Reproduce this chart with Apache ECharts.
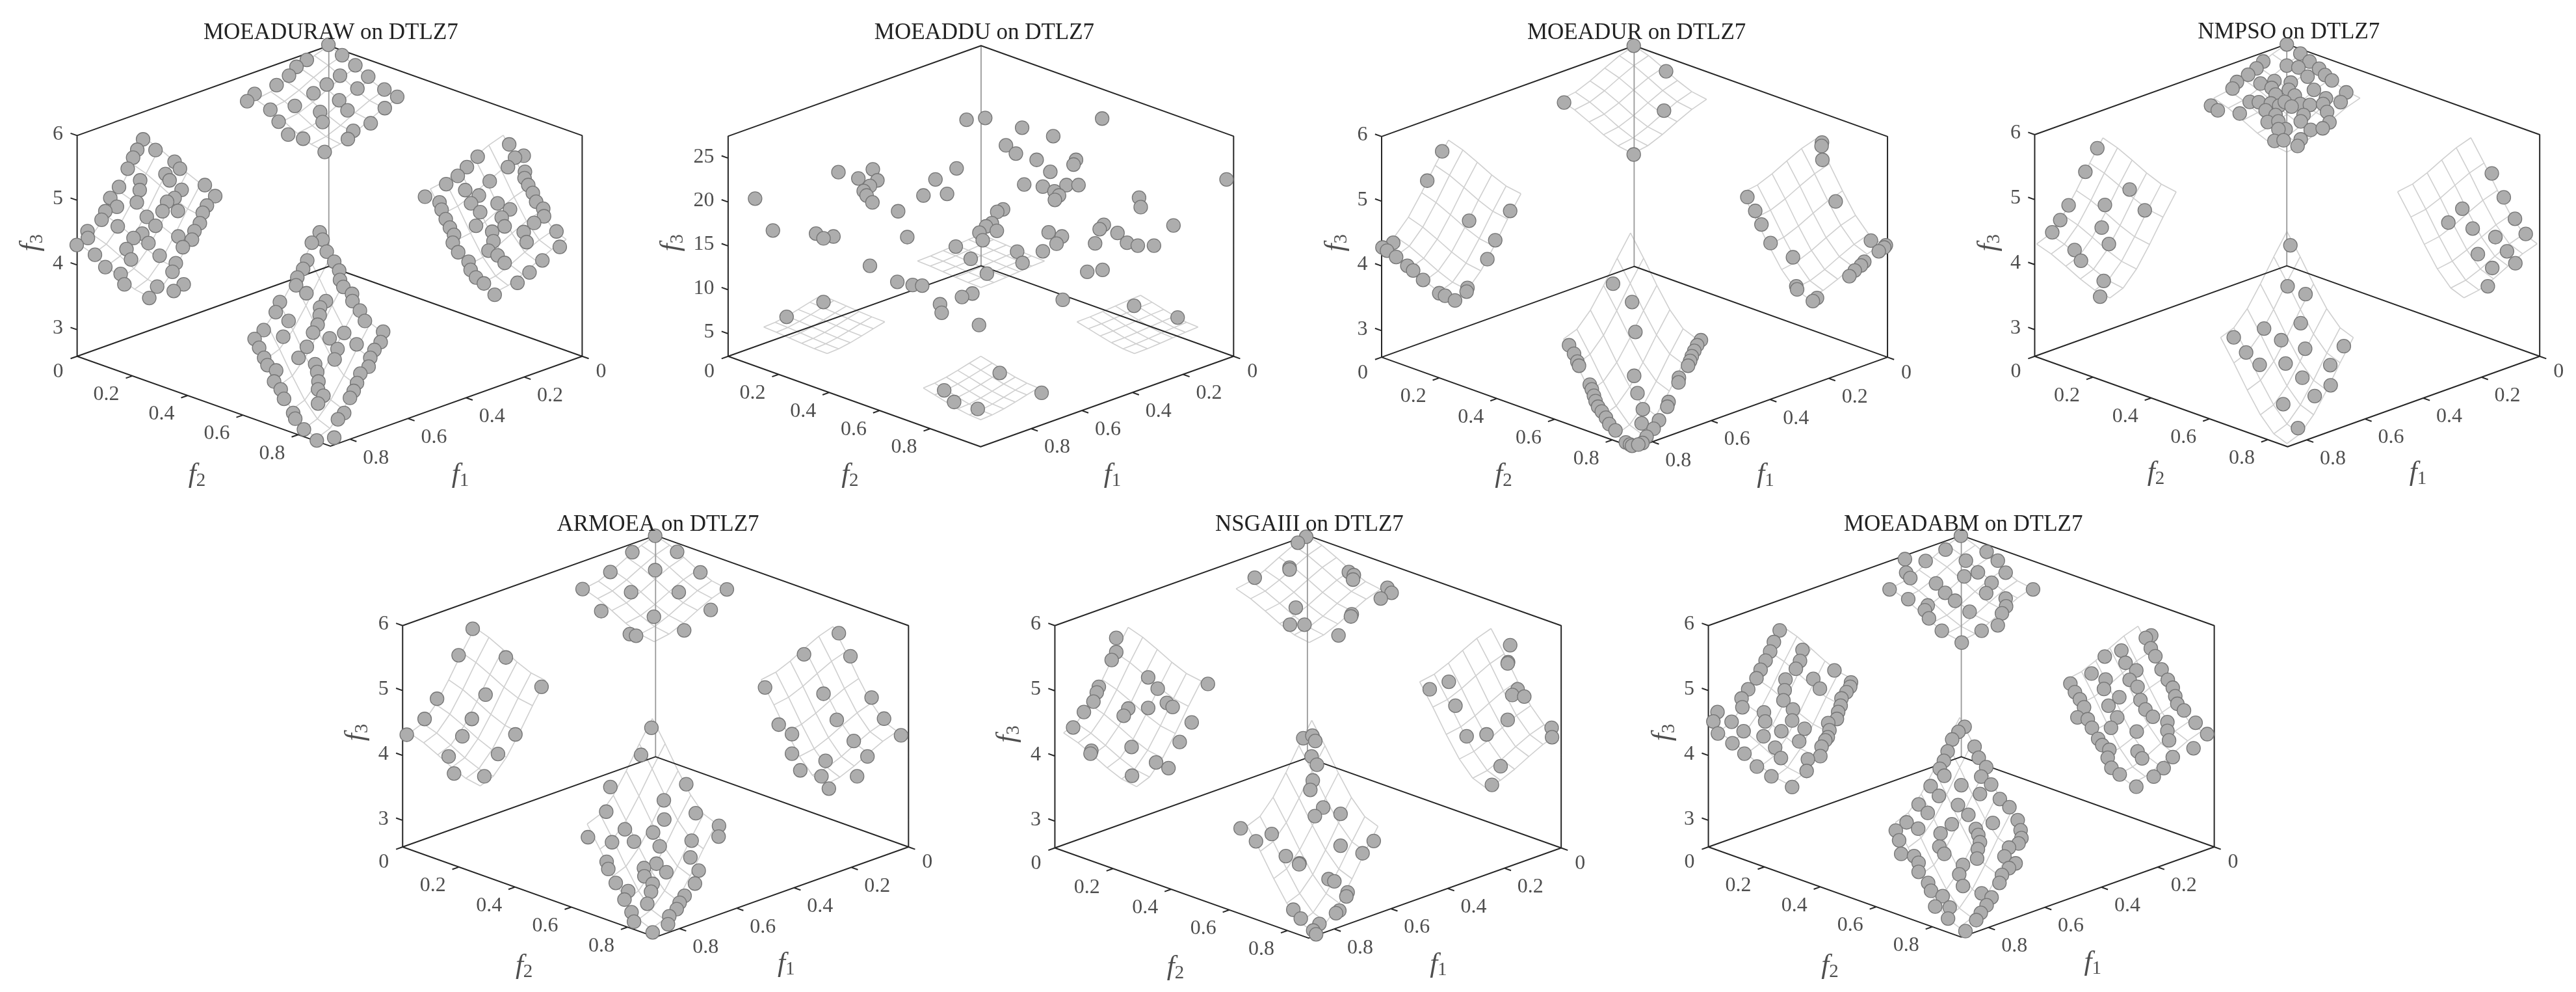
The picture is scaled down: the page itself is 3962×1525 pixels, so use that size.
<!DOCTYPE html>
<html><head><meta charset="utf-8">
<style>html,body{margin:0;padding:0;background:#fff}#c{width:3962px;height:1525px}</style>
<script src="https://cdn.jsdelivr.net/npm/echarts@6/dist/echarts.min.js"></script>
</head><body><div id="c"></div>
<script>
// Points, as [horizontal, vertical] in the projected view plane of each panel (0-1568 on both view axes).
const moeaduraw=[[792,142],[825,175],[740,190],[715,212],[697,240],[857,207],[820,240],[888,243],[667,270],[788,268],[862,281],[927,284],[958,307],[614,298],[596,321],[756,296],[818,318],[711,336],[652,348],[772,355],[838,350],[928,343],[778,387],[672,386],[894,391],[852,415],[839,441],[695,427],[731,440],[783,482],
[345,442],[331,475],[375,476],[321,500],[308,535],[421,513],[434,535],[399,552],[409,572],[338,572],[494,587],[519,622],[287,593],[337,603],[438,602],[421,628],[266,628],[330,642],[403,640],[282,656],[254,670],[499,652],[429,669],[392,670],[489,675],[245,697],[354,688],[482,708],[284,718],[375,716],[469,733],[211,733],[212,755],[343,741],[322,755],[185,777],[430,750],[463,760],[358,771],[441,784],[305,790],[229,808],[385,811],[316,823],[424,835],[254,847],[416,862],[291,869],[300,902],[443,902],[419,923],[379,909],[360,945],
[1228,458],[1152,497],[1263,494],[1242,500],[1225,530],[1126,530],[1266,545],[1104,558],[1265,565],[1181,575],[1076,584],[1274,587],[1122,603],[1285,612],[1025,624],[1155,620],[1060,642],[1293,640],[1136,645],[1200,645],[1065,665],[1310,662],[1158,673],[1230,664],[1075,695],[1312,686],[1210,690],[1288,707],[1085,722],[1148,716],[1217,718],[1263,736],[1095,745],[1342,734],[1187,735],[1092,770],[1190,765],[1270,768],[1350,783],[1105,800],[1178,795],[1200,810],[1130,830],[1217,834],[1308,826],[1135,856],[1277,864],[1148,880],[1167,899],[1248,897],[1193,935],
[771,737],[778,760],[752,770],[788,798],[741,826],[806,830],[731,853],[818,858],[717,880],[820,888],[714,905],[828,910],[849,932],[739,930],[850,955],[786,955],[675,958],[772,975],[868,985],[665,990],[771,1000],[696,1018],[880,1018],[766,1030],[636,1047],[924,1052],[755,1055],[830,1056],[683,1068],[614,1075],[795,1073],[918,1085],[625,1103],[740,1100],[860,1092],[814,1107],[903,1110],[637,1135],[720,1135],[807,1140],[893,1135],[645,1158],[760,1155],[889,1163],[666,1175],[765,1180],[869,1185],[661,1210],[768,1210],[861,1215],[677,1235],[767,1235],[853,1240],[685,1265],[780,1255],[844,1262],[767,1280],[707,1310],[830,1310],[712,1328],[815,1330],[733,1362],[764,1397],[806,1388]];
const moeaddu=[[763,380],[808,374],[1090,376],[897,405],[972,432],[858,461],[882,487],[932,507],[1027,507],[1021,522],[739,534],[537,537],[965,545],[454,546],[502,566],[688,569],[548,572],[530,590],[1390,569],[902,585],[947,592],[1004,587],[1033,587],[515,606],[975,607],[986,620],[659,620],[716,615],[522,620],[976,634],[536,642],[1179,627],[1183,657],[253,630],[851,664],[837,672],[598,670],[824,708],[810,718],[836,732],[1262,715],[296,731],[1094,713],[1084,727],[400,741],[794,738],[442,750],[418,756],[1127,739],[961,737],[993,750],[620,752],[802,762],[1150,770],[1176,779],[1215,779],[1073,772],[980,773],[737,782],[885,798],[947,797],[773,821],[898,834],[530,843],[1054,862],[1091,856],[812,868],[596,894],[633,904],[656,906],[777,931],[752,942],[995,951],[418,958],[699,965],[703,992],[1167,970],[329,1005],[1272,1007],[793,1031],[843,1183],[709,1238],[944,1246],[733,1275],[790,1297]];
const moeadur=[[804,145],[882,226],[636,325],[877,351],[804,490],
[342,480],[306,573],[506,669],[407,700],[470,762],[224,770],[198,785],[209,795],[231,815],[451,822],[258,843],[272,858],[296,888],[403,913],[401,925],[335,930],[349,938],[373,953],
[1258,452],[1257,463],[1259,507],[1078,625],[1291,639],[1097,669],[1112,712],[1376,763],[1412,778],[1408,785],[1395,797],[1134,771],[1360,830],[1352,842],[1188,816],[1337,858],[1324,876],[1196,908],[1198,918],[1246,945],[1236,955],
[754,900],[800,958],[808,1053],[648,1095],[966,1079],[660,1122],[957,1095],[950,1113],[944,1130],[668,1147],[940,1145],[672,1160],[935,1160],[805,1192],[913,1198],[912,1213],[698,1220],[703,1235],[813,1247],[708,1255],[712,1272],[888,1275],[885,1290],[718,1290],[826,1298],[727,1305],[737,1325],[865,1333],[823,1343],[745,1345],[852,1360],[760,1365],[835,1385],[785,1403],[795,1410],[800,1414],[825,1405],[815,1410]];
const nmpso=[[843,141],[877,170],[784,195],[900,195],[767,217],[843,208],[872,214],[924,218],[746,237],[895,243],[939,238],[956,255],[812,257],[777,265],[853,262],[718,260],[707,281],[805,279],[911,285],[848,285],[992,293],[815,300],[863,303],[941,312],[978,324],[653,335],[670,350],[750,323],[773,324],[803,328],[824,335],[838,323],[877,330],[901,333],[934,330],[855,338],[725,360],[790,350],[815,365],[885,365],[944,355],[795,387],[822,385],[878,385],[950,388],[840,410],[822,410],[903,412],[933,407],[812,447],[835,445],[878,442],[870,463],
[368,470],[338,545],[449,601],[296,651],[387,650],[487,667],[275,698],[379,722],[255,737],[397,774],[311,793],[327,827],[384,891],[375,941],
[1357,550],[1387,626],[1283,662],[1415,694],[1248,706],[1309,725],[1442,742],[1366,752],[1395,797],[1322,806],[1416,835],[1358,850],[1347,908],
[852,778],[845,908],[890,933],[878,1025],[786,1042],[710,1070],[829,1079],[889,1106],[986,1098],[741,1118],[775,1157],[840,1153],[952,1158],[882,1198],[953,1222],[913,1256],[834,1282],[871,1358]];
const armoea=[[796,121],[741,173],[849,172],[796,230],[688,236],[905,237],[621,290],[969,291],[738,300],[853,300],[666,360],[930,356],[793,378],[735,433],[750,438],[866,421],
[356,416],[322,500],[436,507],[522,600],[270,638],[387,625],[240,702],[354,702],[197,752],[331,757],[459,751],[298,821],[417,813],[311,875],[384,884],
[1239,430],[1155,497],[1267,503],[1061,602],[1202,622],[1318,634],[1094,720],[1234,705],[1348,701],[1126,750],[1389,754],[1275,772],[1126,812],[1308,821],[1207,835],[1146,865],[1283,884],[1197,884],[1215,923],
[787,730],[762,816],[871,909],[688,918],[817,960],[678,996],[894,1001],[818,1021],[950,1041],[723,1052],[791,1062],[634,1077],[949,1075],[692,1093],[745,1091],[884,1088],[807,1106],[881,1141],[679,1155],[683,1178],[799,1161],[769,1175],[770,1201],[823,1188],[901,1183],[701,1222],[790,1225],[892,1224],[786,1250],[731,1248],[867,1263],[722,1275],[855,1285],[777,1288],[848,1305],[739,1315],[830,1328],[745,1345],[827,1353],[790,1379]];
const nsgaiii=[[798,124],[778,143],[758,222],[758,228],[901,236],[913,246],[911,260],[674,254],[994,286],[1004,302],[978,320],[773,349],[908,370],[906,377],[759,403],[794,403],[876,437],
[340,445],[340,490],[329,515],[298,600],[293,618],[285,647],[417,570],[440,606],[262,680],[462,651],[476,664],[369,669],[358,692],[417,667],[236,729],[561,591],[522,713],[493,775],[280,803],[278,812],[377,791],[436,840],[466,858],[378,882],
[1290,468],[1285,522],[1284,526],[1142,584],[1096,608],[1308,608],[1295,626],[1324,631],[1158,660],[1284,705],[1233,751],[1185,757],[1390,730],[1391,760],[1267,852],[1246,911],
[791,763],[813,755],[820,772],[811,821],[824,847],[814,897],[808,927],[839,983],[819,1010],[881,1003],[640,1049],[715,1067],[677,1090],[961,1089],[881,1104],[934,1128],[749,1137],[782,1160],[781,1163],[852,1210],[866,1217],[898,1252],[895,1265],[767,1307],[878,1310],[870,1318],[785,1335],[830,1352],[815,1373],[822,1385]];
const moeadabm=[[809,121],[772,165],[871,172],[674,195],[724,201],[898,200],[821,200],[677,238],[850,237],[687,255],[917,238],[817,250],[883,270],[749,272],[637,291],[983,291],[771,302],[870,303],[795,327],[682,322],[917,320],[729,342],[722,357],[918,345],[830,362],[908,367],[732,383],[898,405],[763,422],[859,422],[811,460],
[372,421],[358,458],[349,488],[427,483],[338,517],[421,518],[326,546],[411,543],[504,548],[316,573],[386,577],[453,575],[544,586],[542,600],[469,606],[296,608],[384,611],[280,637],[533,617],[521,637],[381,643],[282,665],[519,660],[404,672],[222,680],[334,681],[513,680],[212,710],[337,710],[256,711],[402,707],[510,702],[489,715],[492,738],[285,741],[223,748],[376,741],[432,733],[333,757],[488,760],[258,779],[482,770],[419,773],[361,793],[473,790],[287,812],[375,826],[470,820],[440,830],[317,853],[437,867],[352,884],[402,918],
[1268,437],[1255,445],[1267,478],[1196,485],[1156,504],[1278,503],[1206,524],[1293,545],[1232,548],[1124,558],[1073,590],[1158,577],[1216,578],[1308,578],[1084,617],[1154,607],[1320,603],[1235,600],[1096,640],[1191,633],[1326,630],[1242,642],[1106,665],[1165,660],[1331,654],[1254,672],[1347,675],[1090,697],[1186,697],[1272,695],[1307,712],[1115,703],[1171,730],[1125,730],[1307,740],[1375,714],[1403,750],[1233,742],[1140,765],[1311,770],[1150,785],[1370,795],[1167,800],[1235,805],[1163,825],[1246,827],[1320,823],[1172,857],[1298,858],[1192,878],[1274,885],[1232,917],
[818,727],[803,743],[788,767],[777,805],[842,790],[852,825],[768,835],[758,860],[870,855],[769,882],[858,885],[736,915],[882,910],[810,912],[756,946],[855,940],[903,956],[707,973],[802,975],[926,982],[729,1000],[827,1006],[946,1023],[678,1030],[886,1032],[787,1036],[706,1050],[652,1056],[845,1051],[953,1055],[760,1065],[851,1070],[660,1087],[955,1080],[855,1093],[757,1107],[948,1097],[925,1110],[665,1130],[850,1115],[769,1130],[848,1145],[696,1137],[914,1138],[707,1158],[941,1160],[925,1175],[707,1187],[814,1165],[805,1195],[908,1197],[814,1232],[730,1222],[902,1222],[737,1247],[859,1255],[883,1268],[765,1264],[871,1293],[747,1297],[782,1300],[857,1317],[778,1335],[846,1340],[820,1375]];

const fTicks=[0,0.2,0.4,0.6,0.8];
const zTicks=[3,4,5,6];
const zTicksDDU=[5,10,15,20,25];
// Reference surface grid: grid values and how far f3 falls below 6 at each.
const meshLow=[0,0.05,0.1,0.15,0.2,0.2514];
const meshLowDrop=[0,0.073,0.181,0.298,0.39,0.427];
const meshHigh=[0.6316,0.677,0.723,0.768,0.814,0.8594];
const meshHighDrop=[0.427,0.743,1.089,1.395,1.615,1.693];

const VIEW=1568;
const panels=[
 {name:'MOEADURAW on DTLZ7',pts:moeaduraw,ox:0,oy:0,w:1000,xL:182,xR:1400,xC:793,yT:145,yB:845,yM:1130,yU:425,yF:1412,f1:0.867,f2:0.917,z0:2.59,z1:6,zt:zTicks,zl:[75,770],l2:[475,1505],l1:[1110,1505],tt:[790,95]},
 {name:'MOEADDU on DTLZ7',pts:moeaddu,ox:1000,oy:0,w:1000,xL:189,xR:1408,xC:798,yT:145,yB:843,yM:1130,yU:427,yF:1413,f1:1.0,f2:1.0,z0:2.43,z1:27.5,zt:zTicksDDU,zl:[52,770],l2:[482,1505],l1:[1115,1505],tt:[798,95]},
 {name:'MOEADUR on DTLZ7',pts:moeadur,ox:2000,oy:0,w:1000,xL:194,xR:1414,xC:805,yT:145,yB:845,yM:1133,yU:428,yF:1413,f1:0.859,f2:0.879,z0:2.59,z1:6,zt:zTicks,zl:[85,770],l2:[490,1505],l1:[1122,1505],tt:[803,95]},
 {name:'NMPSO on DTLZ7',pts:nmpso,ox:3000,oy:0,w:962,xL:209,xR:1475,xC:843,yT:140,yB:843,yM:1130,yU:425,yF:1412,f1:0.866,f2:0.868,z0:2.59,z1:6,zt:zTicks,zl:[95,770],l2:[515,1500],l1:[1172,1500],tt:[840,92]},
 {name:'ARMOEA on DTLZ7',pts:armoea,ox:500,oy:765,w:1000,xL:187,xR:1407,xC:797,yT:120,yB:822,yM:1108,yU:405,yF:1390,f1:0.884,f2:0.9,z0:2.59,z1:6,zt:zTicks,zl:[75,745],l2:[480,1485],l1:[1112,1478],tt:[795,75]},
 {name:'NSGAIII on DTLZ7',pts:nsgaiii,ox:1500,oy:765,w:1000,xL:189,xR:1410,xC:801,yT:120,yB:825,yM:1111,yU:408,yF:1395,f1:0.89,f2:0.873,z0:2.59,z1:6,zt:zTicks,zl:[78,750],l2:[483,1490],l1:[1117,1480],tt:[798,75]},
 {name:'MOEADABM on DTLZ7',pts:moeadabm,ox:2500,oy:765,w:1000,xL:200,xR:1420,xC:810,yT:120,yB:822,yM:1108,yU:405,yF:1392,f1:0.896,f2:0.904,z0:2.59,z1:6,zt:zTicks,zl:[90,745],l2:[493,1485],l1:[1127,1475],tt:[807,75]}
];
const SERIF='"Liberation Serif","Times New Roman",serif';
const DARK='#262626';
const BR=['-','-'];

function proj(p,a,b,c){
  const u=a/p.f1, v=b/p.f2;
  const X=p.xC+v*(p.xC-p.xL)-u*(p.xR-p.xC);
  const Y=p.yB+(u+v)*(p.yM-p.yB)-(c-p.z0)/(p.z1-p.z0)*(p.yB-p.yT);
  return [X,Y];
}
const grids=[],xAxes=[],yAxes=[],series=[],titles=[];
const axisText=(s)=>({formatter:'{i|f}{s|'+s+'}',rich:{
  i:{fontFamily:SERIF,fontStyle:'italic',fontSize:43,color:'#222',lineHeight:48},
  s:{fontFamily:SERIF,fontSize:29,color:'#222',verticalAlign:'bottom',lineHeight:30,padding:[16,0,0,0]}}});

panels.forEach((p,i)=>{
  grids.push({left:p.ox,top:p.oy,width:p.w,height:760});
  xAxes.push({type:'value',gridIndex:i,min:0,max:VIEW,show:false});
  yAxes.push({type:'value',gridIndex:i,min:0,max:VIEW,inverse:true,show:false});
  const base={xAxisIndex:i,yAxisIndex:i,silent:true,animation:false};
  const mesh=[];
  [[meshLow,meshLowDrop,meshLow,meshLowDrop],[meshLow,meshLowDrop,meshHigh,meshHighDrop],[meshHigh,meshHighDrop,meshLow,meshLowDrop],[meshHigh,meshHighDrop,meshHigh,meshHighDrop]].forEach(([A,dA,B,dB])=>{
    A.forEach((a,m)=>{B.forEach((b,n)=>mesh.push(proj(p,a,b,6-dA[m]-dB[n])));mesh.push(BR);});
    B.forEach((b,n)=>{A.forEach((a,m)=>mesh.push(proj(p,a,b,6-dA[m]-dB[n])));mesh.push(BR);});
  });
  series.push({...base,type:'line',data:mesh,showSymbol:false,connectNulls:false,clip:false,z:1,lineStyle:{color:'#cfcfcf',width:1.6}});
  series.push({...base,type:'line',data:[proj(p,0,0,p.z0),proj(p,0,0,p.z1)],showSymbol:false,clip:false,z:2,lineStyle:{color:'#999999',width:1.8}});
  const F1=p.f1,F2=p.f2,Z0=p.z0,Z1=p.z1;
  const box=[proj(p,F1,0,Z0),proj(p,F1,0,Z1),proj(p,0,0,Z1),proj(p,0,F2,Z1),proj(p,0,F2,Z0),BR,
             proj(p,F1,0,Z0),proj(p,0,0,Z0),proj(p,0,F2,Z0),proj(p,F1,F2,Z0),proj(p,F1,0,Z0),BR];
  fTicks.forEach(t=>{
    box.push(proj(p,F1,t,Z0),proj(p,F1*1.026,t,Z0),BR);
    box.push(proj(p,t,F2,Z0),proj(p,t,F2*1.026,Z0),BR);
  });
  p.zt.forEach(t=>box.push(proj(p,F1,0,t),proj(p,F1,-F2*0.026,t),BR));
  series.push({...base,type:'line',data:box,showSymbol:false,connectNulls:false,clip:false,z:3,lineStyle:{color:DARK,width:2}});
  series.push({...base,type:'scatter',data:p.pts,symbol:'circle',symbolSize:21,clip:false,z:5,itemStyle:{color:'#adadad',borderColor:'#767676',borderWidth:1.3,opacity:1}});
  const tickStyle={show:true,fontFamily:SERIF,fontSize:32,color:'#222'};
  const mk=(pos,txt,dx,dy)=>({value:pos,label:{...tickStyle,position:'inside',align:'center',verticalAlign:'middle',formatter:txt,offset:[dx,dy]}});
  const labels=[];
  fTicks.forEach(t=>{
    const s=String(t), z=t===0;
    labels.push(mk(proj(p,F1,t,Z0),s,z?-29:-40,z?24:29));
    labels.push(mk(proj(p,t,F2,Z0),s,z?29:40,z?24:29));
  });
  p.zt.forEach(t=>labels.push({value:proj(p,F1,0,t),label:{...tickStyle,position:'left',distance:21,formatter:String(t),offset:[0,-2]}}));
  series.push({...base,type:'scatter',data:labels,symbolSize:1,clip:false,z:6,itemStyle:{color:'transparent'}});
  const nm=(pos,s,rot)=>({value:pos,label:{show:true,position:'inside',align:'center',verticalAlign:'middle',rotate:rot,...axisText(s)}});
  series.push({...base,type:'scatter',symbolSize:1,clip:false,z:6,itemStyle:{color:'transparent'},data:[nm(p.zl,'3',90),nm(p.l2,'2',0),nm(p.l1,'1',0)]});
  titles.push({text:p.name,left:p.ox+p.tt[0]*p.w/VIEW,top:p.oy+p.tt[1]*760/VIEW,textAlign:'center',textVerticalAlign:'middle',
    textStyle:{fontFamily:SERIF,fontSize:35,fontWeight:'normal',color:'#222'}});
});
const chart=echarts.init(document.getElementById('c'),null,{renderer:'canvas'});
chart.setOption({animation:false,backgroundColor:'#fff',title:titles,grid:grids,xAxis:xAxes,yAxis:yAxes,tooltip:{show:false},legend:{show:false},series});
</script></body></html>
